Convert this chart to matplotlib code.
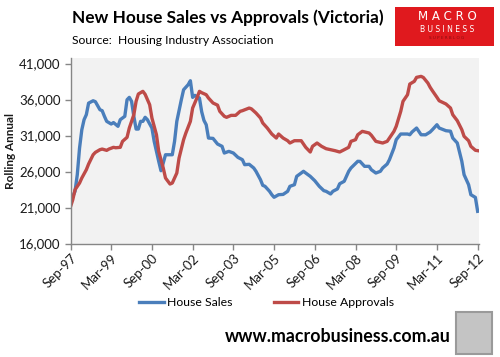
import matplotlib
matplotlib.use("Agg")
import matplotlib.pyplot as plt
from matplotlib.patches import Rectangle

plt.rcParams["font.family"] = ["Lato", "DejaVu Sans"]

# months since Sep-97
sales_months = [0, 2, 3, 4, 5, 6, 7, 8, 10, 11, 13, 14, 15, 16, 18, 19, 21, 22, 24, 25, 26, 27, 28, 29, 30,
                31, 32, 33, 34, 36, 37, 39, 40, 41, 42, 45, 46, 47, 49, 50, 52, 53, 54, 55, 57, 58, 59, 60,
                61, 63, 65, 67, 68, 70, 72, 74, 76, 77, 79, 81, 82, 84, 85, 86, 88, 89, 90, 92, 94, 96, 97,
                99, 100, 102, 103, 104, 106, 108, 110, 112, 113, 115, 116, 118, 119, 121, 123, 124, 127,
                128, 130, 132, 133, 135, 137, 138, 140, 141, 143, 144, 146, 149, 150, 151, 153, 155, 157,
                159, 160, 162, 163, 166, 168, 169, 171, 173, 174, 176, 177, 179, 180]
sales_values = [21800, 23250, 25560, 29260, 31800, 33200, 33900, 35500, 35830, 35700, 34590, 34450, 33670,
                32970, 32600, 32800, 32280, 33200, 33670, 35970, 36300, 35750, 33670, 31900, 31900,
                32970, 32970, 33530, 33200, 32040, 30190, 27420, 26110, 27180, 28330, 28330, 30190,
                32970, 35970, 37360, 38060, 38610, 36300, 36580, 36210, 34300, 33100, 32500,
                30650, 30600, 29820, 29500, 28570, 28800, 28570, 27970, 27640, 26950, 27000, 26490,
                26030, 24860, 24080, 23940, 23250, 22780, 22420, 22780, 22820, 23250, 23940,
                24170, 25330, 25790, 26030, 25790, 25330, 24720, 23940, 23340, 23250, 22880, 23250,
                23580, 24300, 24640, 26030, 26490, 27420,
                27400, 26720, 26720, 26250, 25790, 26030, 26490, 27040, 27640, 29260, 30420, 31210,
                31210, 31110, 31490, 32040, 31110, 31100,
                31490, 31810, 32500, 32040, 31670, 31600, 30650, 29960, 27420, 25560, 24170, 22780,
                22400, 20470]

approvals_months = [0, 1, 2, 4, 5, 7, 8, 10, 11, 13, 14, 16, 17, 19, 20, 22, 23, 25, 26, 28, 29, 30, 32,
                    33, 35, 36, 38, 39, 41, 42, 44, 45, 47, 48, 50, 51, 53, 54, 56, 57, 58, 60, 61, 63,
                    65, 66, 68, 69, 71, 73, 75, 76, 79, 80, 82, 84, 85, 87, 89, 91, 92, 94, 96, 97, 99,
                    102, 103, 104, 106, 107, 109, 111, 113, 115, 117, 119, 121, 123, 124, 126, 127, 129,
                    132, 133, 135, 138, 140, 141, 143, 144, 146, 147, 149, 150, 152, 153, 155, 156, 158,
                    159, 160, 162, 163, 166, 168, 169, 171, 173, 174, 176, 177, 179, 180]
approvals_values = [21100, 22080, 23470, 24400, 25100, 26250, 27040, 28330, 28660, 29030, 29120, 28940,
                    29120, 29360, 29300, 29360, 30190, 30750, 32040, 33890, 35750, 36770, 37140,
                    36720, 35280, 33430, 31110, 28800, 26490, 25100, 24260, 24400, 25790, 27880, 30420,
                    31350, 32970, 34820, 36300, 37140, 36950, 36670, 36210, 35520,
                    35220, 34360, 33670, 33530, 33800, 33800, 34360, 34450, 34820, 34700, 34130, 33430,
                    32740, 32040, 31210, 30650, 31210, 30650, 30280, 29960, 30280,
                    30280, 29820, 29360, 28710, 29500, 29960, 29500, 29170, 29030, 28890, 28710, 29030,
                    29360, 30190, 30420, 31110, 31580,
                    31350, 31040, 30190, 29960, 30190, 30650, 31580, 32280, 34360, 35750, 36670, 38150,
                    38530, 39080, 39220, 39060, 38290,
                    37700, 37220, 36310, 35830, 35380, 34820, 33890, 33060, 31810, 30890, 30280, 29500,
                    28950, 28900]

tick_months = [0, 18, 36, 54, 72, 90, 108, 126, 144, 162, 180]
tick_labels = ["Sep-97", "Mar-99", "Sep-00", "Mar-02", "Sep-03", "Mar-05", "Sep-06", "Mar-08",
               "Sep-09", "Mar-11", "Sep-12"]
y_ticks = [16000, 21000, 26000, 31000, 36000, 41000]

W, H = 500, 357
fig = plt.figure(figsize=(5, 3.57), dpi=100)
fig.patch.set_facecolor("white")

left, right, top, bottom = 70.5, 479, 58, 243.5
ax = fig.add_axes([left / W, 1 - bottom / H, (right - left) / W, (bottom - top) / H])
ax.set_facecolor("#F2F2F2")

ax.plot(sales_months, sales_values, color="#4A7EBB", lw=2.4, label="House Sales", solid_joinstyle="round")
ax.plot(approvals_months, approvals_values, color="#BE4B48", lw=2.4, label="House Approvals",
        solid_joinstyle="round")

ax.set_xlim(0, 180.6)
ax.set_ylim(16000, 41770)
ax.set_xticks(tick_months)
ax.set_xticklabels(tick_labels, rotation=45, ha="right", rotation_mode="anchor")
ax.set_yticks(y_ticks)
ax.set_yticklabels([f"{v:,}" for v in y_ticks])

for s in ["top", "right"]:
    ax.spines[s].set_visible(False)
for s in ["left", "bottom"]:
    ax.spines[s].set_color("#868686")
    ax.spines[s].set_linewidth(1.0)
ax.tick_params(axis="both", colors="#868686", length=4, width=1.0, labelcolor="#1a1a1a", labelsize=9.5)
ax.tick_params(axis="x", pad=2)
ax.tick_params(axis="y", pad=3)

fig.text(11 / W, 1 - 151 / H, "Rolling Annual", fontsize=8.5, fontweight="bold", color="#1a1a1a",
         rotation=90, ha="center", va="center")

leg = ax.legend(loc="upper center", bbox_to_anchor=(0.48, -0.23), ncol=2, frameon=False,
                fontsize=8.8, handlelength=2.0, columnspacing=3.4, handletextpad=0.25)

fig.text(72 / W, 1 - 18 / H, "New House Sales vs Approvals (Victoria)", fontsize=12.45, fontweight="bold",
         va="center", ha="left", color="black")
fig.text(72 / W, 1 - 40 / H, "Source:  Housing Industry Association", fontsize=8.7,
         va="center", ha="left", color="black")

# logo
fig.patches.append(Rectangle((395 / W, 1 - 46 / H), 99 / W, 39 / H, transform=fig.transFigure,
                             facecolor="#E0191E", edgecolor="none"))
fig.text(447 / W, 1 - 17 / H, "M A C R O", fontsize=8.5, color="white", ha="center", va="center",
         family="DejaVu Sans")
fig.text(447 / W, 1 - 29 / H, "B U S I N E S S", fontsize=5.5, color="white", ha="center", va="center",
         family="DejaVu Sans")
fig.text(447 / W, 1 - 38 / H, "S U P E R B L O G", fontsize=3, color="#8a0e10", ha="center", va="center",
         family="DejaVu Sans")

fig.text(337.5 / W, 1 - 337 / H, "www.macrobusiness.com.au", fontsize=12.8, fontweight="bold",
         va="center", ha="center", color="black")
fig.patches.append(Rectangle((456 / W, 1 - 354 / H), 36 / W, 42 / H, transform=fig.transFigure,
                             facecolor="#C4C4C4", edgecolor="#9a9a9a", lw=1.5))

fig.savefig("out.png", dpi=100)
